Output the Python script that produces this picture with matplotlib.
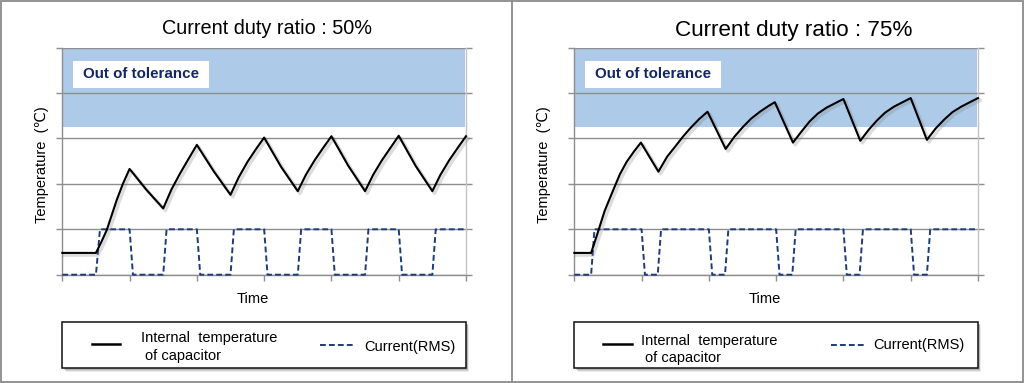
import matplotlib
matplotlib.use('Agg')
import matplotlib.pyplot as plt
from matplotlib.patches import Rectangle
import matplotlib.patheffects as pe

# ---------------- data ----------------
titles = ["Current duty ratio : 50%", "Current duty ratio : 75%"]
x_label = "Time"
y_label = "Temperature  (\u2103)"
band_label = "Out of tolerance"
legend_temp = ["Internal  temperature", " of capacitor"]
legend_current = "Current(RMS)"

x_ticks = [0, 1, 2, 3, 4, 5, 6]
y_ticks = [0, 1, 2, 3, 4, 5]
tolerance_low = 3.25
tolerance_high = 4.965

temp50_x = [0, 0.5, 0.58, 0.66, 0.81, 0.9, 1.0, 1.25, 1.5, 1.62, 1.75, 1.88, 2.0, 2.25, 2.5,
            2.62, 2.75, 2.88, 3.0, 3.25, 3.5, 3.62, 3.75, 3.88, 4.0, 4.25, 4.5, 4.62, 4.75,
            4.88, 5.0, 5.25, 5.5, 5.62, 5.75, 5.88, 6.0]
temp50_y = [0.48, 0.48, 0.72, 0.98, 1.65, 2.0, 2.33, 1.87, 1.46, 1.87, 2.23, 2.56, 2.86, 2.28,
            1.76, 2.14, 2.48, 2.77, 3.02, 2.38, 1.84, 2.20, 2.52, 2.80, 3.05, 2.40, 1.84,
            2.20, 2.52, 2.80, 3.06, 2.40, 1.84, 2.20, 2.52, 2.80, 3.05]

temp75_x = [0, 0.25, 0.33, 0.45, 0.58, 0.68, 0.78, 0.89, 0.99, 1.25, 1.38, 1.52, 1.62, 1.72,
            1.85, 1.98, 2.25, 2.38, 2.51, 2.63, 2.76, 2.88, 2.98, 3.25, 3.38, 3.5, 3.62, 3.75,
            3.88, 4.0, 4.25, 4.38, 4.5, 4.62, 4.75, 4.88, 5.0, 5.24, 5.37, 5.5, 5.62, 5.75,
            5.88, 6.0]
temp75_y = [0.48, 0.48, 0.84, 1.40, 1.87, 2.22, 2.49, 2.72, 2.91, 2.27, 2.60, 2.86, 3.05, 3.22,
            3.42, 3.59, 2.77, 3.04, 3.26, 3.44, 3.59, 3.71, 3.80, 2.91, 3.16, 3.38, 3.55, 3.68,
            3.78, 3.87, 2.95, 3.20, 3.40, 3.57, 3.70, 3.80, 3.89, 2.97, 3.22, 3.42, 3.58, 3.70,
            3.80, 3.89]

cur50_x = [0, 0.5, 0.56, 1.0, 1.05, 1.5, 1.55, 2.0, 2.05, 2.5, 2.55, 3.0, 3.05, 3.5, 3.55,
           4.0, 4.05, 4.5, 4.55, 5.0, 5.05, 5.5, 5.55, 6.0]
cur50_y = [0, 0, 1, 1, 0, 0, 1, 1, 0, 0, 1, 1, 0, 0, 1, 1, 0, 0, 1, 1, 0, 0, 1, 1]

cur75_x = [0, 0.25, 0.30, 1.0, 1.05, 1.24, 1.29, 2.0, 2.05, 2.24, 2.29, 3.0, 3.05, 3.24, 3.29,
           4.0, 4.05, 4.24, 4.29, 5.0, 5.05, 5.24, 5.29, 6.0]
cur75_y = [0, 0, 1, 1, 0, 0, 1, 1, 0, 0, 1, 1, 0, 0, 1, 1, 0, 0, 1, 1, 0, 0, 1, 1]

# ---------------- style ----------------
FONT = ['Liberation Sans', 'DejaVu Sans']
plt.rcParams['font.family'] = FONT
BAND = '#ADCBE8'
GRID = '#8E8E8E'
NAVY = '#1F3C78'
TXT_NAVY = '#122768'

W, H = 1024, 383
fig = plt.figure(figsize=(W / 100, H / 100), dpi=100)
fig.patch.set_facecolor('white')


def px_axes(x0, y0, x1, y1):
    return fig.add_axes([x0 / W, 1 - y1 / H, (x1 - x0) / W, (y1 - y0) / H])


panels = [
    dict(dx=0, temp=(temp50_x, temp50_y), cur=(cur50_x, cur50_y), title=titles[0],
         tsize=14.3, tpos=(266.7, 29.0), ylx=41.7,
         leg=dict(h1=(91.7, 120), t1=(140.7, 145.3), t1y=(337.7, 356), h2=(320, 353.3), t2=364, t2y=346.5)),
    dict(dx=512, temp=(temp75_x, temp75_y), cur=(cur75_x, cur75_y), title=titles[1],
         tsize=16.2, tpos=(793.7, 30.5), ylx=544.3,
         leg=dict(h1=(90.7, 120), t1=(129, 133), t1y=(340.7, 358.3), h2=(319, 353.3), t2=361, t2y=344.5)),
]

shadow = [pe.SimpleLineShadow(offset=(1.6, -1.6), shadow_color='#777777', alpha=0.25, linewidth=2.4),
          pe.Normal()]

for p in panels:
    dx = p['dx']
    ax = px_axes(62.3 + dx, 47.7, 466.0 + dx, 274.7)
    ax.set_xlim(x_ticks[0], x_ticks[-1])
    ax.set_ylim(y_ticks[0], y_ticks[-1])
    ax.axhspan(tolerance_low, tolerance_high, xmin=0, xmax=0.997, color=BAND, lw=0, zorder=0)
    ax.set_xticks(x_ticks)
    ax.set_yticks(y_ticks)
    ax.grid(axis='y', color=GRID, lw=1.0)
    ax.grid(axis='x', visible=False)
    ax.spines['top'].set_visible(False)
    for s in ('left', 'bottom'):
        ax.spines[s].set_color(GRID)
        ax.spines[s].set_linewidth(1.0)
    ax.spines['right'].set_color('#C4C4C4')
    ax.spines['right'].set_linewidth(1.0)
    ax.tick_params(axis='both', which='both', labelleft=False, labelbottom=False,
                   color=GRID, length=4, width=1.0, direction='out', right=True)
    tx, ty = p['temp']
    cx, cy = p['cur']
    ax.plot(cx, cy, color=NAVY, lw=1.4, ls=(0, (3.0, 1.6)), zorder=3, clip_on=False)
    ax.plot(tx, ty, color='black', lw=1.5, zorder=4, path_effects=shadow, clip_on=False)

# overlay in pixel coordinates
ov = fig.add_axes([0, 0, 1, 1])
ov.set_xlim(0, W)
ov.set_ylim(H, 0)
ov.axis('off')
ov.set_zorder(10)

ov.add_patch(Rectangle((0.6, 0.6), W - 1.2, H - 1.2, fill=False, ec='#8A8A8A', lw=1.3))
ov.plot([511.5, 511.5], [0, H], color='#8A8A8A', lw=1.3)

for p in panels:
    dx = p['dx']
    lg = p['leg']
    ov.text(p['tpos'][0], p['tpos'][1], p['title'], ha='center', va='center',
            fontsize=p['tsize'], color='black')
    ov.text(252.8 + dx, 299.0, x_label, ha='center', va='center', fontsize=10.5, color='black')
    ov.text(p['ylx'], 164.5, y_label, ha='center', va='center', rotation=90,
            fontsize=10.5, color='black')
    # tolerance tag
    ov.add_patch(Rectangle((73.3 + dx, 61), 136, 27.3, fc='white', ec='none', zorder=2))
    ov.text(83.0 + dx, 74.5, band_label, ha='left', va='center', fontsize=10.9,
            fontweight='bold', color=TXT_NAVY, zorder=3)
    # legend box with soft shadow
    x0, y0, x1, y1 = 62.3 + dx, 321.7, 465.7 + dx, 368.3
    for k, a in enumerate([0.10, 0.14, 0.20]):
        off = 3.6 - k * 0.9
        ov.add_patch(Rectangle((x0 + off, y0 + off), x1 - x0, y1 - y0, fc='#404040',
                               ec='none', alpha=a, zorder=1))
    ov.add_patch(Rectangle((x0, y0), x1 - x0, y1 - y0, fc='white', ec='#111111', lw=1.1, zorder=2))
    ov.plot([lg['h1'][0] + dx, lg['h1'][1] + dx], [344.3, 344.3], color='black', lw=1.8, zorder=3)
    ov.text(lg['t1'][0] + dx, lg['t1y'][0], legend_temp[0], ha='left', va='center',
            fontsize=10.5, zorder=3)
    ov.text(lg['t1'][1] + dx, lg['t1y'][1], legend_temp[1].strip(), ha='left', va='center',
            fontsize=10.5, zorder=3)
    ov.plot([lg['h2'][0] + dx, lg['h2'][1] + dx], [345, 345], color=NAVY, lw=1.4,
            ls=(0, (3.0, 1.6)), zorder=3)
    ov.text(lg['t2'] + dx, lg['t2y'], legend_current, ha='left', va='center',
            fontsize=10.5, zorder=3)

fig.savefig('out.png', dpi=100, facecolor='white')
